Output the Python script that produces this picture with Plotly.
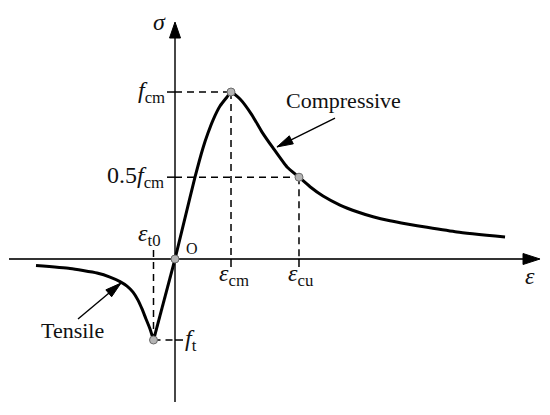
import plotly.graph_objects as go

# normalised strain (eps/eps_cm) and stress (sigma/f_cm)
comp_eps = [0.0, 0.179, 0.357, 0.5, 0.589, 0.679, 0.804, 0.929, 1.0,
            1.161, 1.375, 1.554, 1.75, 2.0, 2.214, 2.411, 2.643, 2.946,
            3.25, 3.536, 3.839, 4.143, 4.5, 5.036, 5.893]
comp_sig = [0.0, 0.246, 0.49, 0.665, 0.754, 0.832, 0.916, 0.970, 1.0,
            0.958, 0.862, 0.760, 0.665, 0.551, 0.49, 0.433, 0.377, 0.323,
            0.283, 0.253, 0.229, 0.210, 0.190, 0.162, 0.132]

tens_eps = [0.0, -0.384]
tens_sig = [0.0, -0.485]
soft_eps = [-0.384, -0.446, -0.518, -0.589, -0.661, -0.75, -0.857, -0.982,
            -1.161, -1.393, -1.643, -1.875, -2.482]
soft_sig = [-0.485, -0.419, -0.359, -0.299, -0.246, -0.198, -0.162, -0.135,
            -0.108, -0.084, -0.069, -0.057, -0.039]

# characteristic points
eps_cm, f_cm = 1.0, 1.0
eps_cu, half_f = 2.214, 0.49
eps_t0, f_t = -0.384, -0.485

# page has an 8px body margin, so the figure is 8px smaller than the window
W, H = 542, 407
xr = [-2.982, 6.696]
yr = [-0.934, 1.503]
sx = W / (xr[1] - xr[0])   # px per x unit
sy = H / (yr[1] - yr[0])   # px per y unit

FONT = "Liberation Serif"
DASH = "7px,5px"

fig = go.Figure()


def seg(x, y, dash="solid", width=1.5, color="black"):
    fig.add_trace(go.Scatter(x=x, y=y, mode="lines", hoverinfo="skip",
                             line=dict(color=color, width=width, dash=dash)))


def head(tx, ty, fx, fy, length, width, color="black"):
    # filled triangular arrow head, tip at (tx, ty), pointing away from (fx, fy)
    dx, dy = (tx - fx) * sx, (ty - fy) * sy
    n = (dx ** 2 + dy ** 2) ** 0.5
    ux, uy = dx / n, dy / n
    bx, by = -ux * length, -uy * length
    px, py = -uy * width / 2, ux * width / 2
    xs = [tx, tx + (bx + px) / sx, tx + (bx - px) / sx, tx]
    ys = [ty, ty + (by + py) / sy, ty + (by - py) / sy, ty]
    fig.add_trace(go.Scatter(x=xs, y=ys, mode="lines", fill="toself",
                             fillcolor=color, hoverinfo="skip",
                             line=dict(color=color, width=1)))


# axes with arrows
ax_col = "#333333"
x_end, y_end = 6.518, 1.419
seg([-2.964, x_end - 10 / sx], [0, 0], width=1.8, color=ax_col)
head(x_end, 0, 0, 0, 17, 11, color="black")
seg([0, 0], [-0.856, y_end - 10 / sy], width=1.8, color=ax_col)
head(0, y_end, 0, 0, 16, 11, color="black")

# guide lines
t = 8
seg([0, eps_cm], [f_cm, f_cm], dash=DASH)
seg([eps_cm, eps_cm], [f_cm, 0], dash=DASH)
seg([0, eps_cu], [half_f, half_f], dash=DASH)
seg([eps_cu, eps_cu], [half_f, 0], dash=DASH)
seg([eps_t0, eps_t0], [9 / sy, f_t], dash=DASH)
seg([eps_t0, 0], [f_t, f_t], dash=DASH)
seg([-t / sx, 0], [f_cm, f_cm])
seg([-t / sx, 0], [half_f, half_f])
seg([0, t / sx], [f_t, f_t])
seg([eps_cm, eps_cm], [0, -t / sy])
seg([eps_cu, eps_cu], [0, -t / sy])

# curves
fig.add_trace(go.Scatter(x=comp_eps, y=comp_sig, mode="lines", hoverinfo="skip",
                         line=dict(color="black", width=3, shape="spline",
                                   smoothing=0.5)))
fig.add_trace(go.Scatter(x=tens_eps, y=tens_sig, mode="lines", hoverinfo="skip",
                         line=dict(color="black", width=3)))
fig.add_trace(go.Scatter(x=soft_eps, y=soft_sig, mode="lines", hoverinfo="skip",
                         line=dict(color="black", width=3, shape="spline",
                                   smoothing=0.5)))

# key points
fig.add_trace(go.Scatter(x=[0, eps_cm, eps_cu, eps_t0], y=[0, f_cm, half_f, f_t],
                         mode="markers", hoverinfo="skip",
                         marker=dict(size=8, color="#b4b4b4",
                                     line=dict(color="#6a6a6a", width=1))))

# pointer arrows
c_tail, c_tip = (2.857, 0.844), (1.821, 0.671)
seg([c_tail[0], c_tip[0]], [c_tail[1], c_tip[1]], width=1.4)
head(c_tip[0], c_tip[1], c_tail[0], c_tail[1], 16, 9)
t_tail, t_tip = (-1.732, -0.359), (-0.964, -0.144)
seg([t_tail[0], t_tip[0]], [t_tail[1], t_tip[1]], width=1.4)
head(t_tip[0], t_tip[1], t_tail[0], t_tail[1], 16, 9)


def label(x, y, text, size=24, xanchor="center", xs=0, ys=0):
    fig.add_annotation(x=x, y=y, text=text, showarrow=False, xanchor=xanchor,
                       yanchor="middle", xshift=xs, yshift=ys,
                       font=dict(family=FONT, size=size, color="#111111"))


label(0, y_end, "<i>σ</i>", xs=-16, ys=0)
label(0, f_cm, "<i>f</i><sub>cm</sub>", xanchor="right", xs=-8, ys=0)
label(0, half_f, "0.5<i>f</i><sub>cm</sub>", xanchor="right", xs=-9, ys=0)
label(eps_t0, 0, "<i>ε</i><sub>t0</sub>", xs=-4, ys=24)
label(0, 0, "O", size=16, xs=17, ys=11)
label(eps_cm, 0, "<i>ε</i><sub>cm</sub>", xs=3, ys=-16)
label(eps_cu, 0, "<i>ε</i><sub>cu</sub>", xs=2, ys=-16)
label(x_end, 0, "<i>ε</i>", xs=-10, ys=-17)
label(0, f_t, "<i>f</i><sub>t</sub>", xanchor="left", xs=8, ys=0)
label(c_tail[0], c_tail[1], "Compressive", size=22, xs=8, ys=18)
label(t_tail[0], t_tail[1], "Tensile", size=22, xs=-6, ys=-12)

fig.update_layout(
    width=W, height=H, margin=dict(l=0, r=0, t=0, b=0),
    paper_bgcolor="white", plot_bgcolor="white", showlegend=False,
    xaxis=dict(range=xr, visible=False, fixedrange=True),
    yaxis=dict(range=yr, visible=False, fixedrange=True),
)

fig.write_html("out.html")
